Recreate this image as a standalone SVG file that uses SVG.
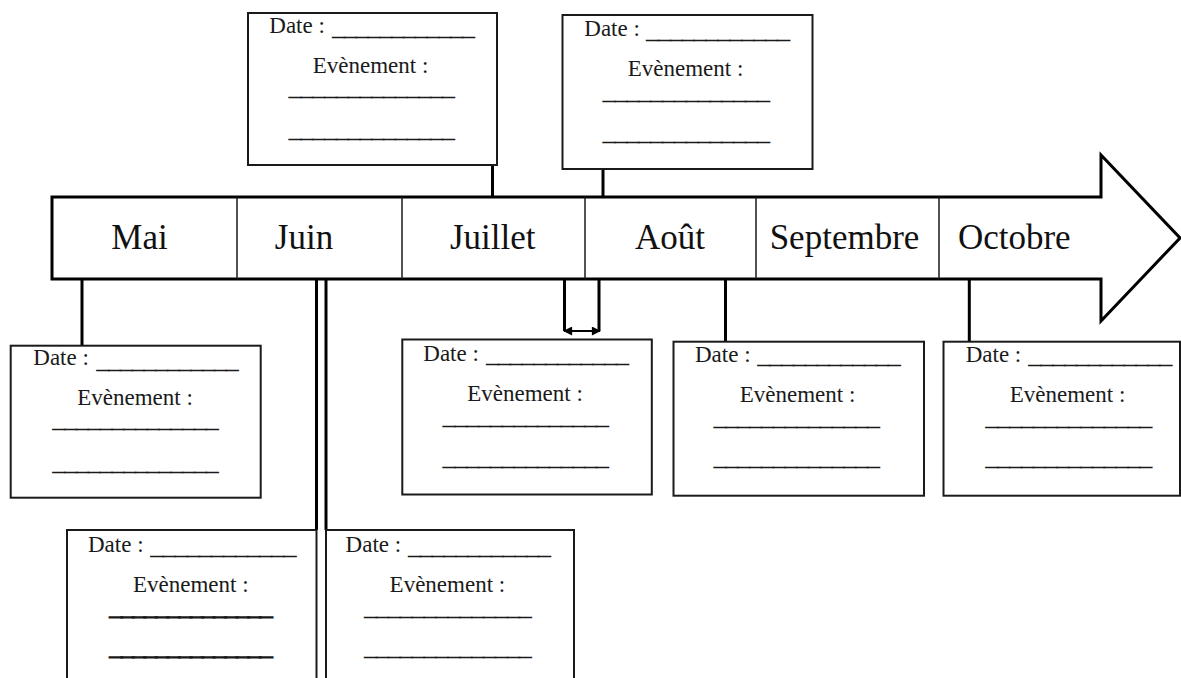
<svg xmlns="http://www.w3.org/2000/svg" width="1181" height="678" viewBox="0 0 1181 678">
<style>
  .bg{fill:#ffffff}
  .box{fill:#ffffff;stroke:#1a1a1a;stroke-width:2}
  .arrow{fill:#ffffff;stroke:#000000;stroke-width:3;stroke-linejoin:miter}
  .div{stroke:#1a1a1a;stroke-width:1.5}
  .month{font-family:"Liberation Serif","Times New Roman",serif;font-size:35px;fill:#111111;text-anchor:middle}
  .t{font-family:"Liberation Serif","Times New Roman",serif;font-size:23px;fill:#1a1a1a}
  .c{text-anchor:middle}
  .u{font-family:"Liberation Serif","Times New Roman",serif;font-size:12px;fill:#1a1a1a;stroke:#1a1a1a;stroke-width:0.8}
  .ub{stroke-width:1.6}
  .conn{stroke:#000000;stroke-width:3;fill:none}
  .thin{stroke:#000000;stroke-width:2;fill:none}
</style>
<defs>
  <marker id="ah" viewBox="0 0 10 10" refX="9" refY="5" markerWidth="11" markerHeight="9" markerUnits="userSpaceOnUse" orient="auto-start-reverse">
    <path d="M0,0 L10,5 L0,10 Z" fill="#000000"/>
  </marker>
</defs>
<rect class="bg" x="0" y="0" width="1181" height="678"/>

<g id="timeline">
  <polygon class="arrow" points="52,197 1101,197 1101,155 1180,238 1101,321 1101,279 52,279"/>
  <line class="div" x1="237" y1="197" x2="237" y2="279"/>
  <line class="div" x1="402" y1="197" x2="402" y2="279"/>
  <line class="div" x1="585" y1="197" x2="585" y2="279"/>
  <line class="div" x1="756" y1="197" x2="756" y2="279"/>
  <line class="div" x1="939" y1="197" x2="939" y2="279"/>
  <text class="month" x="139.5" y="249">Mai</text>
  <text class="month" x="304" y="249">Juin</text>
  <text class="month" x="492.7" y="249">Juillet</text>
  <text class="month" x="670" y="249">Août</text>
  <text class="month" x="844.5" y="249">Septembre</text>
  <text class="month" x="1014.3" y="249">Octobre</text>
</g>

<g id="connectors">
  <line class="conn" x1="492.5" y1="165" x2="492.5" y2="197"/>
  <line class="conn" x1="603" y1="169" x2="603" y2="197"/>
  <line class="conn" x1="82" y1="279" x2="82" y2="346"/>
  <line class="conn" x1="316.5" y1="279" x2="316.5" y2="530"/>
  <line class="conn" x1="326" y1="279" x2="326" y2="530"/>
  <line class="conn" x1="564.5" y1="279" x2="564.5" y2="331"/>
  <line class="conn" x1="599" y1="279" x2="599" y2="331"/>
  <line class="thin" x1="564" y1="331" x2="600" y2="331" marker-start="url(#ah)" marker-end="url(#ah)"/>
  <line class="conn" x1="725.5" y1="279" x2="725.5" y2="342"/>
  <line class="conn" x1="969.3" y1="279" x2="969.3" y2="342"/>
</g>

<g id="box-juillet-top">
  <rect class="box" x="248" y="13" width="249" height="152"/>
  <text class="t" x="269.3" y="33.3">Date :</text>
  <text class="u" x="332.7" y="36.1" textLength="141.6" lengthAdjust="spacingAndGlyphs">____________</text>
  <text class="t c" x="370.5" y="73">Evènement :</text>
  <text class="u" x="289.3" y="96.1" textLength="165" lengthAdjust="spacingAndGlyphs">______________</text>
  <text class="u" x="289.3" y="137.8" textLength="165" lengthAdjust="spacingAndGlyphs">______________</text>
</g>

<g id="box-aout-top">
  <rect class="box" x="562.5" y="15" width="250" height="154"/>
  <text class="t" x="584.3" y="36.3">Date :</text>
  <text class="u" x="646.7" y="39.3" textLength="142.6" lengthAdjust="spacingAndGlyphs">____________</text>
  <text class="t c" x="685.5" y="76.3">Evènement :</text>
  <text class="u" x="603.3" y="100" textLength="166" lengthAdjust="spacingAndGlyphs">______________</text>
  <text class="u" x="603.3" y="141.3" textLength="166" lengthAdjust="spacingAndGlyphs">______________</text>
</g>

<g id="box-mai">
  <rect class="box" x="10.7" y="345.7" width="250" height="152"/>
  <text class="t" x="33.3" y="365">Date :</text>
  <text class="u" x="97" y="368.8" textLength="141" lengthAdjust="spacingAndGlyphs">____________</text>
  <text class="t c" x="135" y="405">Evènement :</text>
  <text class="u" x="53" y="428.1" textLength="165" lengthAdjust="spacingAndGlyphs">______________</text>
  <text class="u" x="53" y="470.5" textLength="165" lengthAdjust="spacingAndGlyphs">______________</text>
</g>

<g id="box-juillet-bottom">
  <rect class="box" x="402.3" y="339.5" width="249.5" height="155"/>
  <text class="t" x="423.3" y="360.7">Date :</text>
  <text class="u" x="486.7" y="363.1" textLength="141.6" lengthAdjust="spacingAndGlyphs">____________</text>
  <text class="t c" x="525" y="400.7">Evènement :</text>
  <text class="u" x="443.3" y="424.5" textLength="165" lengthAdjust="spacingAndGlyphs">______________</text>
  <text class="u" x="443.3" y="465.5" textLength="165" lengthAdjust="spacingAndGlyphs">______________</text>
</g>

<g id="box-aout-bottom">
  <rect class="box" x="673.5" y="341.7" width="250.5" height="154"/>
  <text class="t" x="695" y="362.3">Date :</text>
  <text class="u" x="758" y="363.8" textLength="142" lengthAdjust="spacingAndGlyphs">____________</text>
  <text class="t c" x="797.5" y="401.7">Evènement :</text>
  <text class="u" x="714.3" y="425.5" textLength="165" lengthAdjust="spacingAndGlyphs">______________</text>
  <text class="u" x="714.3" y="466.1" textLength="165" lengthAdjust="spacingAndGlyphs">______________</text>
</g>

<g id="box-octobre">
  <rect class="box" x="943.5" y="341.7" width="236.5" height="154"/>
  <text class="t" x="965.7" y="362.3">Date :</text>
  <text class="u" x="1029" y="363.8" textLength="142.7" lengthAdjust="spacingAndGlyphs">____________</text>
  <text class="t c" x="1067.5" y="401.7">Evènement :</text>
  <text class="u" x="986" y="425.5" textLength="165.7" lengthAdjust="spacingAndGlyphs">______________</text>
  <text class="u" x="986" y="466.1" textLength="165.7" lengthAdjust="spacingAndGlyphs">______________</text>
</g>

<g id="box-juin-left">
  <rect class="box" x="67" y="530" width="249.5" height="160"/>
  <text class="t" x="88" y="552.3">Date :</text>
  <text class="u" x="151" y="554.6" textLength="144.8" lengthAdjust="spacingAndGlyphs">____________</text>
  <text class="t c" x="190.8" y="591.7">Evènement :</text>
  <text class="u ub" x="110.2" y="615.5" textLength="161.5" lengthAdjust="spacingAndGlyphs">______________</text>
  <text class="u ub" x="110.2" y="655.5" textLength="161.5" lengthAdjust="spacingAndGlyphs">______________</text>
</g>

<g id="box-juin-right">
  <rect class="box" x="326" y="530" width="248" height="160"/>
  <text class="t" x="345.6" y="552.3">Date :</text>
  <text class="u" x="408.7" y="554.6" textLength="141.6" lengthAdjust="spacingAndGlyphs">____________</text>
  <text class="t c" x="447.4" y="591.7">Evènement :</text>
  <text class="u" x="364.7" y="615.5" textLength="166.5" lengthAdjust="spacingAndGlyphs">______________</text>
  <text class="u" x="364.7" y="655.5" textLength="166.5" lengthAdjust="spacingAndGlyphs">______________</text>
</g>
</svg>
